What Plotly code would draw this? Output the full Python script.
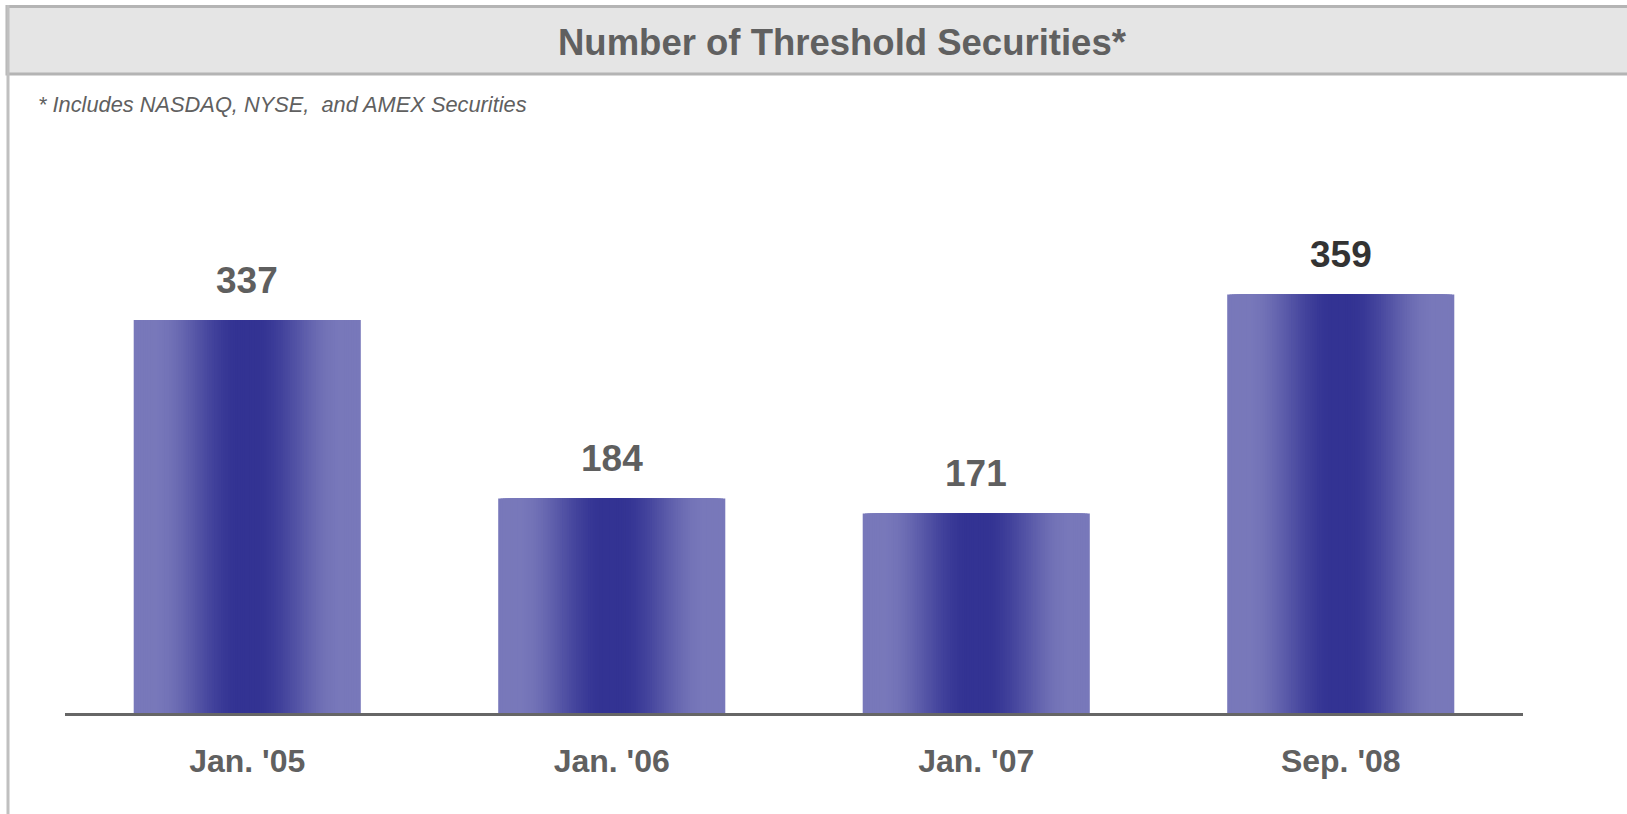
import plotly.graph_objects as go

categories = ["Jan. '05", "Jan. '06", "Jan. '07", "Sep. '08"]
values = [337, 184, 171, 359]
label_colors = ["#5f5f5f", "#5f5f5f", "#5f5f5f", "#333333"]
title_text = "Number of Threshold Securities*"
subtitle_text = "* Includes NASDAQ, NYSE,\u00a0 and AMEX Securities"

W, H = 1627, 814
L, R, T, B = 65, 104, 150, 101
pw, ph = W - L - R, H - T - B
px_per_unit = 1.166
ymax = ph / px_per_unit

def px_x(px):
    return (px - L) / pw

def px_y(py):
    return (H - B - py) / ph

light = (120, 120, 186)
dark = (51, 51, 147)

def smooth(e0, e1, x):
    t = min(max((x - e0) / (e1 - e0), 0), 1)
    return t * t * (3 - 2 * t)

fig = go.Figure()
N = 48
bar_w = 0.623
for k in range(N):
    d = 1 - k / N
    f = 1 - smooth(0.08, 0.84, d)
    col = tuple(round(light[i] + (dark[i] - light[i]) * f) for i in range(3))
    fig.add_trace(go.Bar(
        x=categories, y=values,
        width=bar_w * d,
        marker=dict(color="rgb(%d,%d,%d)" % col, line=dict(width=0)),
        hoverinfo="skip",
        showlegend=False,
    ))

annotations = []
for c, v, lc in zip(categories, values, label_colors):
    annotations.append(dict(
        x=c, y=v, xref="x", yref="y", text=str(v), showarrow=False,
        yanchor="middle", xanchor="center", yshift=40,
        font=dict(family="Liberation Sans, Arial, sans-serif", size=37, color=lc, weight="bold"),
    ))

annotations.append(dict(
    x=px_x(842.5), y=px_y(42), xref="paper", yref="paper", text=title_text,
    showarrow=False, xanchor="center", yanchor="middle",
    font=dict(family="Liberation Sans, Arial, sans-serif", size=36.5, color="#606060", weight="bold"),
))
annotations.append(dict(
    x=px_x(36), y=px_y(104), xref="paper", yref="paper", text=subtitle_text,
    showarrow=False, xanchor="left", yanchor="middle",
    font=dict(family="Liberation Sans Narrow, Arial Narrow, Liberation Sans, Arial, sans-serif",
              size=21.8, color="#606060", style="italic"),
))

shapes = [
    dict(type="rect", xref="paper", yref="paper",
         x0=px_x(7), x1=px_x(1640), y0=px_y(6.5), y1=px_y(74),
         fillcolor="#e5e5e5", line=dict(color="#b4b4b4", width=3), layer="below"),
    dict(type="line", xref="paper", yref="paper",
         x0=px_x(8), x1=px_x(8), y0=px_y(5), y1=px_y(830),
         line=dict(color="#c0c0c0", width=3)),
]

fig.update_layout(
    width=W, height=H,
    margin=dict(l=L, r=R, t=T, b=B),
    paper_bgcolor="white", plot_bgcolor="white",
    barmode="overlay",
    showlegend=False,
    hovermode=False,
    annotations=annotations,
    shapes=shapes,
    xaxis=dict(
        range=[-0.5, 3.5], showgrid=False, zeroline=False,
        showline=True, linecolor="#666666", linewidth=2.5,
        ticks="", ticklabelstandoff=18,
        tickfont=dict(family="Liberation Sans, Arial, sans-serif", size=32, color="#606060", weight="bold"),
        fixedrange=True,
    ),
    yaxis=dict(
        range=[0, ymax], showgrid=False, zeroline=False, showline=False,
        showticklabels=False, ticks="", fixedrange=True,
    ),
)

fig.write_html(
    "out.html",
    config={"displayModeBar": False, "staticPlot": True},
    post_script="document.body.style.margin='0';document.body.style.overflow='hidden';",
)
